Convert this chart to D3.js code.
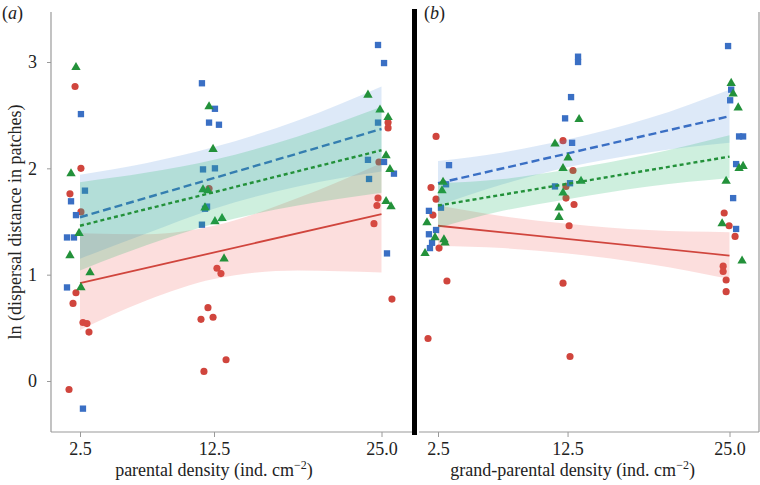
<!DOCTYPE html>
<html>
<head>
<meta charset="utf-8">
<script src="https://cdn.jsdelivr.net/npm/d3@7"></script>
<style>
  html, body { margin: 0; padding: 0; background: #fff; }
  svg { display: block; }
</style>
</head>
<body>
<svg id="chart" width="760" height="485"></svg>
<script>
// ---------- data ----------
const densityTicks = [2.5, 12.5, 25.0];
const yTicks = [0, 1, 2, 3];
const panelLabels = ["a", "b"];
const xLabels = ["parental density (ind. cm", "grand-parental density (ind. cm"];
const yLabel = "ln (dispersal distance in patches)";

// panel (a) points: [density (jittered), ln distance]
const aRed = [[2.13,2.77],[2.57,2.00],[1.75,1.76],[2.57,1.59],[2.20,0.83],[1.98,0.73],[2.72,0.55],[3.02,0.54],[3.17,0.46],[1.68,-0.08],
  [12.13,1.81],[12.72,1.06],[13.02,1.01],[12.05,0.69],[11.53,0.58],[12.43,0.60],[13.40,0.20],[11.75,0.09],
  [25.49,2.43],[25.49,2.38],[24.81,2.06],[24.74,1.72],[24.66,1.65],[24.44,1.48],[25.78,0.77]];
const aBlue = [[2.57,2.51],[2.87,1.79],[1.83,1.69],[2.20,1.56],[1.53,1.35],[2.05,1.35],[1.53,0.88],[2.72,-0.26],
  [11.60,2.80],[12.57,2.56],[12.13,2.43],[12.87,2.41],[11.68,1.99],[12.57,2.00],[11.98,1.64],[11.83,1.62],[11.60,1.47],
  [24.74,3.16],[25.19,2.99],[24.74,2.43],[23.99,2.08],[25.19,2.06],[25.93,1.95],[24.07,1.90],[25.41,1.20]];
const aGreen = [[2.20,2.95],[1.83,1.95],[2.43,1.39],[1.75,1.18],[3.25,1.02],[2.57,0.88],
  [12.13,2.58],[12.43,2.18],[11.68,1.80],[12.05,1.79],[11.83,1.63],[12.57,1.50],[13.10,1.53],[13.25,1.15],
  [23.99,2.69],[24.89,2.55],[25.49,2.48],[25.34,2.12],[25.63,1.99],[25.34,1.69],[25.71,1.64]];

// panel (b) points
const bRed = [[2.35,2.30],[1.96,1.82],[2.35,1.71],[2.11,1.56],[2.58,1.25],[3.19,0.94],[1.73,0.40],
  [12.15,2.26],[12.92,1.98],[12.38,1.83],[12.38,1.72],[13.00,1.66],[12.62,1.46],[12.15,0.92],[12.69,0.23],
  [24.59,1.58],[24.97,1.46],[25.43,1.36],[24.51,1.08],[24.51,1.03],[24.74,0.95],[24.74,0.84]];
const bBlue = [[3.35,2.03],[3.12,1.85],[1.80,1.60],[2.73,1.63],[1.80,1.38],[2.35,1.42],[2.04,1.30],[1.88,1.25],
  [13.31,3.05],[13.31,3.00],[12.77,2.67],[12.31,2.47],[12.85,2.24],[11.53,1.83],[12.69,1.86],
  [24.89,3.15],[25.13,2.74],[25.05,2.64],[25.74,2.30],[26.05,2.30],[25.51,2.04],[25.28,1.72],[25.51,1.43]];
const bGreen = [[2.89,1.87],[2.81,1.79],[1.65,1.49],[2.27,1.35],[2.96,1.33],[3.04,1.30],[1.50,1.20],
  [13.39,2.46],[11.53,2.23],[12.54,2.10],[12.15,2.00],[13.54,1.88],[12.15,1.77],[11.84,1.63],[11.84,1.54],
  [25.13,2.80],[25.28,2.70],[25.67,2.57],[25.74,2.00],[26.05,2.02],[24.74,1.88],[24.43,1.48],[25.97,1.13]];

// fitted lines: [density, value]
const aRedFit = [[2.5,0.92],[25,1.57]];
const aBlueFit = [[2.5,1.54],[25,2.37]];
const aGreenFit = [[2.5,1.46],[25,2.17]];
const bRedFit = [[2.5,1.46],[25,1.18]];
const bBlueFit = [[2.5,1.86],[25,2.49]];
const bGreenFit = [[2.5,1.65],[25,2.11]];

// confidence bands at these densities
const bandX = [2.5, 7.5, 12.5, 18.75, 25];
const aRedLo = [0.48, 0.76, 0.96, 1.04, 1.02];
const aRedHi = [1.39, 1.38, 1.46, 1.72, 2.05];
const aBlueLo = [1.15, 1.39, 1.62, 1.83, 1.97];
const aBlueHi = [1.94, 2.05, 2.20, 2.45, 2.77];
const aGreenLo = [1.04, 1.28, 1.48, 1.65, 1.77];
const aGreenHi = [1.87, 1.96, 2.08, 2.30, 2.58];
const bRedLo = [1.27, 1.25, 1.20, 1.10, 0.96];
const bRedHi = [1.65, 1.55, 1.48, 1.42, 1.40];
const bBlueLo = [1.65, 1.85, 2.01, 2.15, 2.24];
const bBlueHi = [2.07, 2.15, 2.27, 2.47, 2.74];
const bGreenLo = [1.44, 1.60, 1.71, 1.83, 1.91];
const bGreenHi = [1.86, 1.90, 1.99, 2.13, 2.31];

// ---------- styling ----------
const FONT = '"Liberation Serif", "Times New Roman", serif';
const RED = "#d0453d", BLUE = "#3a6fc4", GREEN = "#23913a";
const RED_BAND = "#ee5a55", BLUE_BAND = "#4a88dc", GREEN_BAND = "#22b46a";
const axisGrey = "#9a9a9a";
const TXT = "#222";

const svg = d3.select("#chart");
const y = d3.scaleLinear().domain([0, 3]).range([381, 62]);
const panelsGeom = [
  { x: d3.scaleLinear().domain([2.5, 25]).range([80, 381.5]), left: 51, right: 412, labelShift: 0 },
  { x: d3.scaleLinear().domain([2.5, 25]).range([438, 729.5]), left: 419, right: 759, labelShift: 5 }
];
const axisY = 432, topY = 12;

function serif(sel, size) {
  return sel.style("font-family", FONT).style("font-size", size + "px").style("fill", TXT);
}

const series = [
  [ {pts: aRed, fit: aRedFit, lo: aRedLo, hi: aRedHi, color: RED, band: RED_BAND, shape: d3.symbolCircle, size: 40, dash: null, bandOp: 0.2, lw: 1.8},
    {pts: aBlue, fit: aBlueFit, lo: aBlueLo, hi: aBlueHi, color: BLUE, band: BLUE_BAND, shape: d3.symbolSquare, size: 40, dash: "8,4", bandOp: 0.19, lw: 2.4},
    {pts: aGreen, fit: aGreenFit, lo: aGreenLo, hi: aGreenHi, color: GREEN, band: GREEN_BAND, shape: d3.symbolTriangle, size: 38, dash: "4,3", bandOp: 0.22, lw: 2.4} ],
  [ {pts: bRed, fit: bRedFit, lo: bRedLo, hi: bRedHi, color: RED, band: RED_BAND, shape: d3.symbolCircle, size: 40, dash: null, bandOp: 0.2, lw: 1.8},
    {pts: bBlue, fit: bBlueFit, lo: bBlueLo, hi: bBlueHi, color: BLUE, band: BLUE_BAND, shape: d3.symbolSquare, size: 40, dash: "8,4", bandOp: 0.19, lw: 2.4},
    {pts: bGreen, fit: bGreenFit, lo: bGreenLo, hi: bGreenHi, color: GREEN, band: GREEN_BAND, shape: d3.symbolTriangle, size: 38, dash: "4,3", bandOp: 0.22, lw: 2.4} ]
];

panelsGeom.forEach((g, pi) => {
  const x = g.x;
  const layer = svg.append("g");
  series[pi].forEach(s => {
    layer.append("g").selectAll("path").data(s.pts).join("path")
      .attr("transform", d => `translate(${x(d[0])},${y(d[1])})`)
      .attr("d", d3.symbol().type(s.shape).size(s.size))
      .attr("fill", s.color);
    const bd = bandX.map((bx, i) => ({x: bx, lo: s.lo[i], hi: s.hi[i]}));
    layer.append("path").datum(bd)
      .attr("d", d3.area().x(d => x(d.x)).y0(d => y(d.lo)).y1(d => y(d.hi)).curve(d3.curveMonotoneX))
      .attr("fill", s.band).attr("fill-opacity", s.bandOp);
    layer.append("path").datum(s.fit)
      .attr("d", d3.line().x(d => x(d[0])).y(d => y(d[1])))
      .attr("fill", "none").attr("stroke", s.color).attr("stroke-width", s.lw)
      .attr("stroke-dasharray", s.dash);
  });

  const ax = svg.append("g").attr("transform", `translate(0,${axisY})`)
    .call(d3.axisBottom(x).tickValues(densityTicks).tickFormat(d3.format(".1f")).tickSize(5).tickPadding(5).tickSizeOuter(0));
  ax.select(".domain").remove();
  ax.selectAll("line").attr("stroke", axisGrey);
  serif(ax.selectAll("text"), 18);
  svg.append("line").attr("x1", g.left).attr("x2", g.right).attr("y1", axisY).attr("y2", axisY)
    .attr("stroke", axisGrey).attr("stroke-width", 1.2);

  const cx = x(12.5) + g.labelShift;
  const t = serif(svg.append("text").attr("x", cx).attr("y", 476).attr("text-anchor", "middle"), 18);
  t.append("tspan").text(xLabels[pi]);
  t.append("tspan").text("\u22122").attr("dy", -7).style("font-size", "12px");
  t.append("tspan").text(")").attr("dy", 7);

  const pl = serif(svg.append("text").attr("x", pi === 0 ? 2 : 424).attr("y", 19), 18);
  pl.append("tspan").text("(");
  pl.append("tspan").text(panelLabels[pi]).style("font-style", "italic");
  pl.append("tspan").text(")");
});

const ay = svg.append("g").attr("transform", "translate(51,0)")
  .call(d3.axisLeft(y).tickValues(yTicks).tickFormat(d3.format("d")).tickSize(4).tickPadding(10).tickSizeOuter(0));
ay.select(".domain").remove();
ay.selectAll("line").attr("stroke", axisGrey);
serif(ay.selectAll("text"), 18);
svg.append("line").attr("x1", 51).attr("x2", 51).attr("y1", topY).attr("y2", axisY).attr("stroke", axisGrey).attr("stroke-width", 1.2);
svg.append("line").attr("x1", 759).attr("x2", 759).attr("y1", topY).attr("y2", axisY).attr("stroke", axisGrey).attr("stroke-width", 1.2);

serif(svg.append("text").attr("transform", "translate(21,222) rotate(-90)")
  .attr("text-anchor", "middle"), 18).text(yLabel);

svg.append("rect").attr("x", 412).attr("y", 9).attr("width", 5).attr("height", 426).attr("fill", "#000");
</script>
</body>
</html>
